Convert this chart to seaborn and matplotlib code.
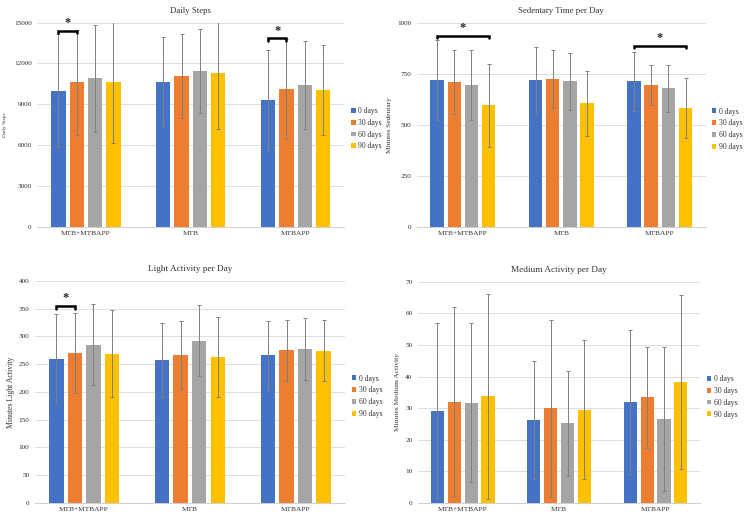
import pandas as pd
import matplotlib
matplotlib.use("Agg")
import matplotlib.pyplot as plt
import seaborn as sns

groups = ["MTB+MTBAPP", "MTB", "MTBAPP"]
periods = ["0 days", "30 days", "60 days", "90 days"]
colors = ["#4472C4", "#ED7D31", "#A5A5A5", "#FFC000"]

# one row per period, values in group order
steps_mean = [[10000, 10640, 9310], [10610, 11080, 10120], [10900, 11450, 10420], [10610, 11300, 10050]]
steps_sd = [[4140, 3270, 3670], [3870, 3060, 3700], [3950, 3100, 3250], [4480, 4120, 3300]]
sed_mean = [[721, 721, 716], [713, 726, 698], [697, 716, 680], [597, 607, 585]]
sed_sd = [[197, 164, 145], [156, 140, 97], [170, 140, 115], [205, 158, 148]]
light_mean = [[260, 257, 266], [270, 266, 275], [285, 292, 278], [269, 263, 274]]
light_sd = [[80, 67, 62], [72, 61, 55], [73, 64, 56], [79, 72, 55]]
medium_mean = [[29.2, 26.3, 32.1], [32.1, 30.0, 33.4], [31.7, 25.2, 26.5], [33.8, 29.5, 38.3]]
medium_sd = [[27.8, 18.8, 22.8], [30.0, 28.0, 16.0], [25.2, 16.6, 22.8], [32.5, 22.0, 27.6]]

# significance brackets: (group, first period, last period, height)
steps_sig = [(0, 0, 1, 14400), (2, 0, 1, 13850)]
sed_sig = [(0, 0, 3, 938), (2, 0, 3, 890)]
light_sig = [(0, 0, 1, 355)]
medium_sig = []

# title, ylabel, data, ymax, step, axes rect, title size, ylabel size, ylabel pad
panels = [
    ("Daily Steps", "Daily Steps", steps_mean, steps_sd, steps_sig, 15000, 3000,
     [0.050, 0.569, 0.412, 0.388], 6.3, 3.8, 5),
    ("Sedentary Time per Day", "Minutes Sedentary", sed_mean, sed_sd, sed_sig, 1000, 250,
     [0.560, 0.568, 0.387, 0.388], 6.3, 5.3, 4),
    ("Light Activity per Day", "Minutes Light Activity", light_mean, light_sd, light_sig, 400, 50,
     [0.047, 0.044, 0.416, 0.422], 6.7, 5.6, 3),
    ("Medium Activity per Day", "Minutes Medium Activity", medium_mean, medium_sd, medium_sig, 70, 10,
     [0.561, 0.044, 0.379, 0.420], 6.7, 5.4, 4),
]

sns.set_style("white")
plt.rcParams["font.family"] = ["Liberation Serif", "DejaVu Serif"]
txt = "#333333"

fig = plt.figure(figsize=(7.45, 5.26), dpi=100)

for title, ylabel, means, sds, sigs, ymax, step, rect, tsize, lsize, lpad in panels:
    ax = fig.add_axes(rect)
    rows = []
    for p, period in enumerate(periods):
        for g, group in enumerate(groups):
            rows.append({"group": group, "period": period, "value": means[p][g], "sd": sds[p][g]})
    df = pd.DataFrame(rows)

    sns.barplot(data=df, x="group", y="value", hue="period", order=groups, hue_order=periods,
                palette=colors, saturation=1, width=0.7, gap=0.22, errorbar=None,
                linewidth=0, ax=ax, zorder=2)
    bars = list(ax.containers)

    # error bars on each bar
    for p, cont in enumerate(bars):
        xs = [b.get_x() + b.get_width() / 2 for b in cont.patches]
        ax.errorbar(xs, means[p], yerr=sds[p], fmt="none", ecolor="#808080",
                    elinewidth=0.7, capsize=1.2, capthick=0.7, zorder=3)

    # significance brackets
    for g, p0, p1, y in sigs:
        b0 = bars[p0].patches[g]
        b1 = bars[p1].patches[g]
        x0 = b0.get_x() + b0.get_width() / 2
        x1 = b1.get_x() + b1.get_width() / 2
        h = ymax * 0.012
        ax.plot([x0, x0, x1, x1], [y - h, y, y, y - h], color="black", lw=1.8,
                solid_joinstyle="miter", zorder=4, clip_on=False)
        ax.text((x0 + x1) / 2, y + ymax * 0.008, "*", ha="center", va="bottom",
                fontsize=9, fontweight="bold", zorder=4)

    ax.set_ylim(0, ymax)
    ax.set_yticks(range(0, ymax + 1, step))
    ax.grid(axis="y", color="#d9d9d9", linewidth=0.6, zorder=0)
    ax.set_axisbelow(True)
    for s in ["top", "right", "left"]:
        ax.spines[s].set_visible(False)
    ax.spines["bottom"].set_color("#d0d0d0")
    ax.spines["bottom"].set_linewidth(0.7)
    ax.tick_params(axis="y", length=0, labelsize=5.2, colors=txt, pad=4)
    ax.tick_params(axis="x", length=0, labelsize=5.3, colors=txt, pad=3)
    ax.set_xlabel("")
    ax.set_ylabel(ylabel, fontsize=lsize, color=txt, labelpad=lpad)
    ax.set_title(title, fontsize=tsize, color=txt, pad=7)

    ax.legend(bars, periods, loc="center left", bbox_to_anchor=(1.022, 0.48), borderaxespad=0,
              frameon=False, fontsize=5.5, handlelength=0.6, handleheight=0.6, handletextpad=0.35,
              labelspacing=0.5, labelcolor=txt, borderpad=0)

fig.savefig("out.png", dpi=100)
